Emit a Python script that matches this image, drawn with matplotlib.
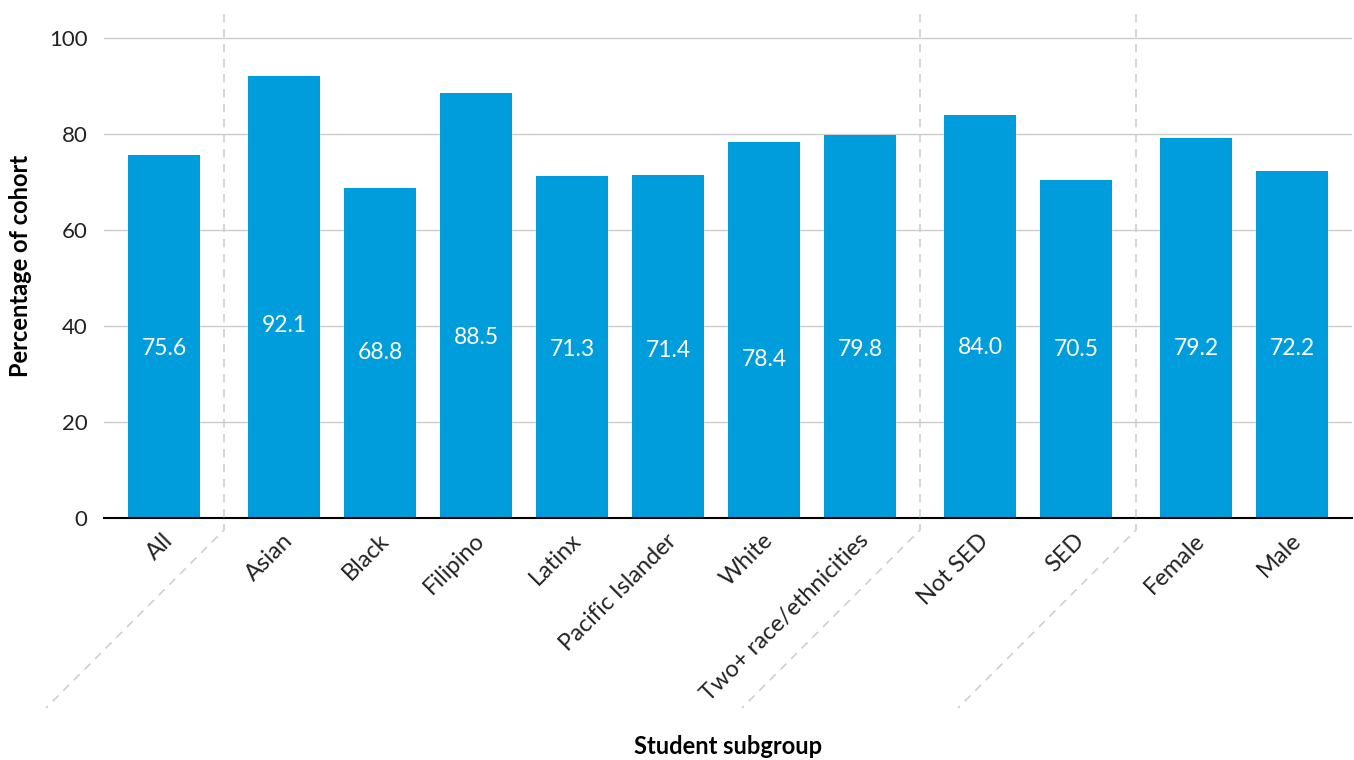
import matplotlib.pyplot as plt
import matplotlib.transforms as mtransforms
from matplotlib.lines import Line2D

plt.rcParams['font.family'] = ['Lato', 'DejaVu Sans']

subgroups = ["All", "Asian", "Black", "Filipino", "Latinx", "Pacific Islander",
             "White", "Two+ race/ethnicities", "Not SED", "SED", "Female", "Male"]
pct = [75.6, 92.1, 68.8, 88.5, 71.3, 71.4, 78.4, 79.8, 84.0, 70.5, 79.2, 72.2]
# group index of each subgroup: all / race / income / gender
group = [0, 1, 1, 1, 1, 1, 1, 1, 2, 2, 3, 3]

# x positions, with a bit of extra room between groups
xpos = [i + 0.25 * g for i, g in enumerate(group)]
# where the value labels sit inside the bars
label_y = [35.4, 40.0, 34.4, 37.5, 35.2, 34.8, 33.1, 35.2, 35.6, 35.2, 35.4, 35.4]

blue = "#009ddc"

fig = plt.figure(figsize=(13.54, 7.6), dpi=100)
ax = fig.add_axes([104 / 1354, 242 / 760, 1248 / 1354, 504 / 760])

ax.bar(xpos, pct, width=0.75, color=blue, zorder=2)
for x, v, ly in zip(xpos, pct, label_y):
    ax.text(x, ly, f"{v:.1f}", color="white", ha="center", va="center",
            fontsize=16.5, fontweight="normal", zorder=3)

ax.set_xlim(-0.625, xpos[-1] + 0.625)
ax.set_ylim(0, 105)
ax.set_yticks([0, 20, 40, 60, 80, 100])
ax.yaxis.grid(True, color="#cccccc", linewidth=1)
ax.set_axisbelow(True)
for s in ["top", "right", "left"]:
    ax.spines[s].set_visible(False)
ax.spines["bottom"].set_color("black")
ax.spines["bottom"].set_linewidth(1.5)
ax.spines["bottom"].set_zorder(4)
ax.tick_params(length=0, colors="#222222")
ax.tick_params(axis="y", pad=12, labelsize=16)
ax.tick_params(axis="x", labelsize=17)

ax.set_xticks(xpos)
ax.set_xticklabels(subgroups, rotation=45, ha="right", va="top",
                   rotation_mode="anchor")
for lab in ax.get_xticklabels():
    lab.set_transform(lab.get_transform() +
                      mtransforms.ScaledTranslation(-2 / 100, -7 / 100, fig.dpi_scale_trans))

ax.set_ylabel("Percentage of cohort", fontsize=17, fontweight="bold", labelpad=12)
fig.text(0.5377, 1 - 746 / 760, "Student subgroup", fontsize=17, fontweight="bold",
         ha="center", va="center")

# dashed separators between groups, bending down along the rotated labels
fig.canvas.draw()
for i in range(1, len(xpos)):
    if group[i] != group[i - 1]:
        sx = (xpos[i] + xpos[i - 1]) / 2
        px, py0 = ax.transData.transform((sx, 0))
        _, ptop = ax.transData.transform((sx, 105))
        bend = py0 - 12
        xs = [px, px, px - 178]
        ys = [ptop, bend, bend - 178]
        fig.add_artist(Line2D(xs, ys, transform=mtransforms.IdentityTransform(),
                              color="#cfcfcf", linestyle=(0, (5, 4)), linewidth=1.2,
                              zorder=1))

fig.savefig("out.png", dpi=100)
